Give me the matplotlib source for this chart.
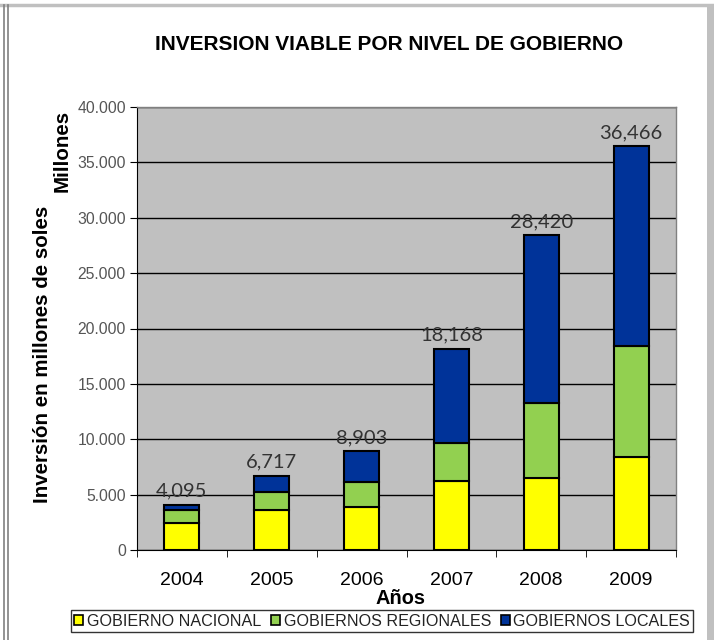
import matplotlib
matplotlib.use("Agg")
import matplotlib.pyplot as plt
import matplotlib.patches as mpatches
from matplotlib.lines import Line2D
from matplotlib.ticker import FuncFormatter, MultipleLocator
import numpy as np

# data (millones de soles)
years = ["2004", "2005", "2006", "2007", "2008", "2009"]
nacional = [2450, 3600, 3900, 6250, 6500, 8400]
regionales = [1150, 1600, 2250, 3450, 6800, 10050]
totals = [4095, 6717, 8903, 18168, 28420, 36466]
total_labels = ["4,095", "6,717", "8,903", "18,168", "28,420", "36,466"]
series_names = ["GOBIERNO NACIONAL", "GOBIERNOS REGIONALES", "GOBIERNOS LOCALES"]
colours = ["#FFFF00", "#92D050", "#003399"]

locales = [t - n - r for t, n, r in zip(totals, nacional, regionales)]

plt.rcParams['font.family'] = ['Liberation Sans', 'DejaVu Sans']

W, H = 714, 640
fig = plt.figure(figsize=(W / 100, H / 100), dpi=100)

# plot area in pixels
left, right, top, bottom = 137, 676, 107, 550
ax = fig.add_axes([left / W, 1 - bottom / H, (right - left) / W, (bottom - top) / H])
ax.set_facecolor("#C0C0C0")

x = np.arange(len(years))
bw = 0.39
ax.bar(x, nacional, bw, color=colours[0], edgecolor="black", linewidth=1.5, zorder=3)
ax.bar(x, regionales, bw, bottom=nacional, color=colours[1], edgecolor="black", linewidth=1.5, zorder=3)
bot2 = [n + r for n, r in zip(nacional, regionales)]
ax.bar(x, locales, bw, bottom=bot2, color=colours[2], edgecolor="black", linewidth=1.5, zorder=3)

for xi, t, lab in zip(x, totals, total_labels):
    ax.text(xi, t + 450, lab, ha="center", va="bottom", fontsize=14.5,
            color="#333333", family=["Lato", "DejaVu Sans"], zorder=4)

ax.set_xlim(-0.5, len(years) - 0.5)
ax.set_ylim(0, 40000)
ax.yaxis.set_major_locator(MultipleLocator(5000))
ax.yaxis.set_major_formatter(FuncFormatter(lambda v, p: "0" if v == 0 else f"{int(v):,}".replace(",", ".")))
ax.grid(axis="y", color="black", linewidth=1.0, zorder=1)
ax.set_axisbelow(True)

ax.set_xticks(x)
ax.set_xticklabels(years, fontsize=14)
ax.set_xticks(np.arange(-0.5, len(years)), minor=True)
ax.tick_params(axis="x", which="major", length=0, pad=16)
ax.tick_params(axis="x", which="minor", length=5, direction="out", color="black")
ax.tick_params(axis="y", length=5, direction="out", labelsize=11.3, labelcolor="#555555", pad=3)

for s in ["top", "right"]:
    ax.spines[s].set_color("#808080")
    ax.spines[s].set_linewidth(1.0)
ax.spines["left"].set_color("black")
ax.spines["bottom"].set_color("black")

# titles and labels
fig.text(389 / W, 1 - 44 / H, "INVERSION VIABLE POR NIVEL DE GOBIERNO",
         ha="center", va="center", fontsize=15, fontweight="bold")
fig.text(43 / W, 1 - 354 / H, "Inversión en millones de soles", rotation=90,
         ha="center", va="center", fontsize=14.8, fontweight="bold")
fig.text(62 / W, 1 - 151 / H, "Millones", rotation=90,
         ha="center", va="center", fontsize=14.8, fontweight="bold")
fig.text(401 / W, 1 - 599 / H, "Años", ha="center", va="center",
         fontsize=14.4, fontweight="bold")

# legend
handles = [mpatches.Patch(facecolor=c, edgecolor="black", linewidth=1.2, label=n)
           for c, n in zip(colours, series_names)]
leg = fig.legend(handles=handles, loc="center", bbox_to_anchor=(382 / W, 1 - 621 / H),
                 ncol=3, fontsize=11.6, frameon=True, fancybox=False, handlelength=0.6,
                 handleheight=0.6, handletextpad=0.2, columnspacing=0.6,
                 borderpad=0.2, edgecolor="black")
leg.get_frame().set_linewidth(1.0)
for t in leg.get_texts():
    t.set_color("#222222")

# outer frame of the chart area
fig.add_artist(Line2D([0, 1], [1 - 5 / H, 1 - 5 / H], color="#C0C0C0", linewidth=2.5))
fig.add_artist(Line2D([4 / W, 4 / W], [0, 1 - 5 / H], color="#808080", linewidth=1.2))
fig.add_artist(Line2D([8 / W, 8 / W], [0, 1 - 5 / H], color="#808080", linewidth=1.2))
fig.add_artist(mpatches.Rectangle((707 / W, 0), 7 / W, 1 - 5 / H, transform=fig.transFigure,
                                  facecolor="#C0C0C0", edgecolor="none"))

fig.savefig("out.png", dpi=100)
